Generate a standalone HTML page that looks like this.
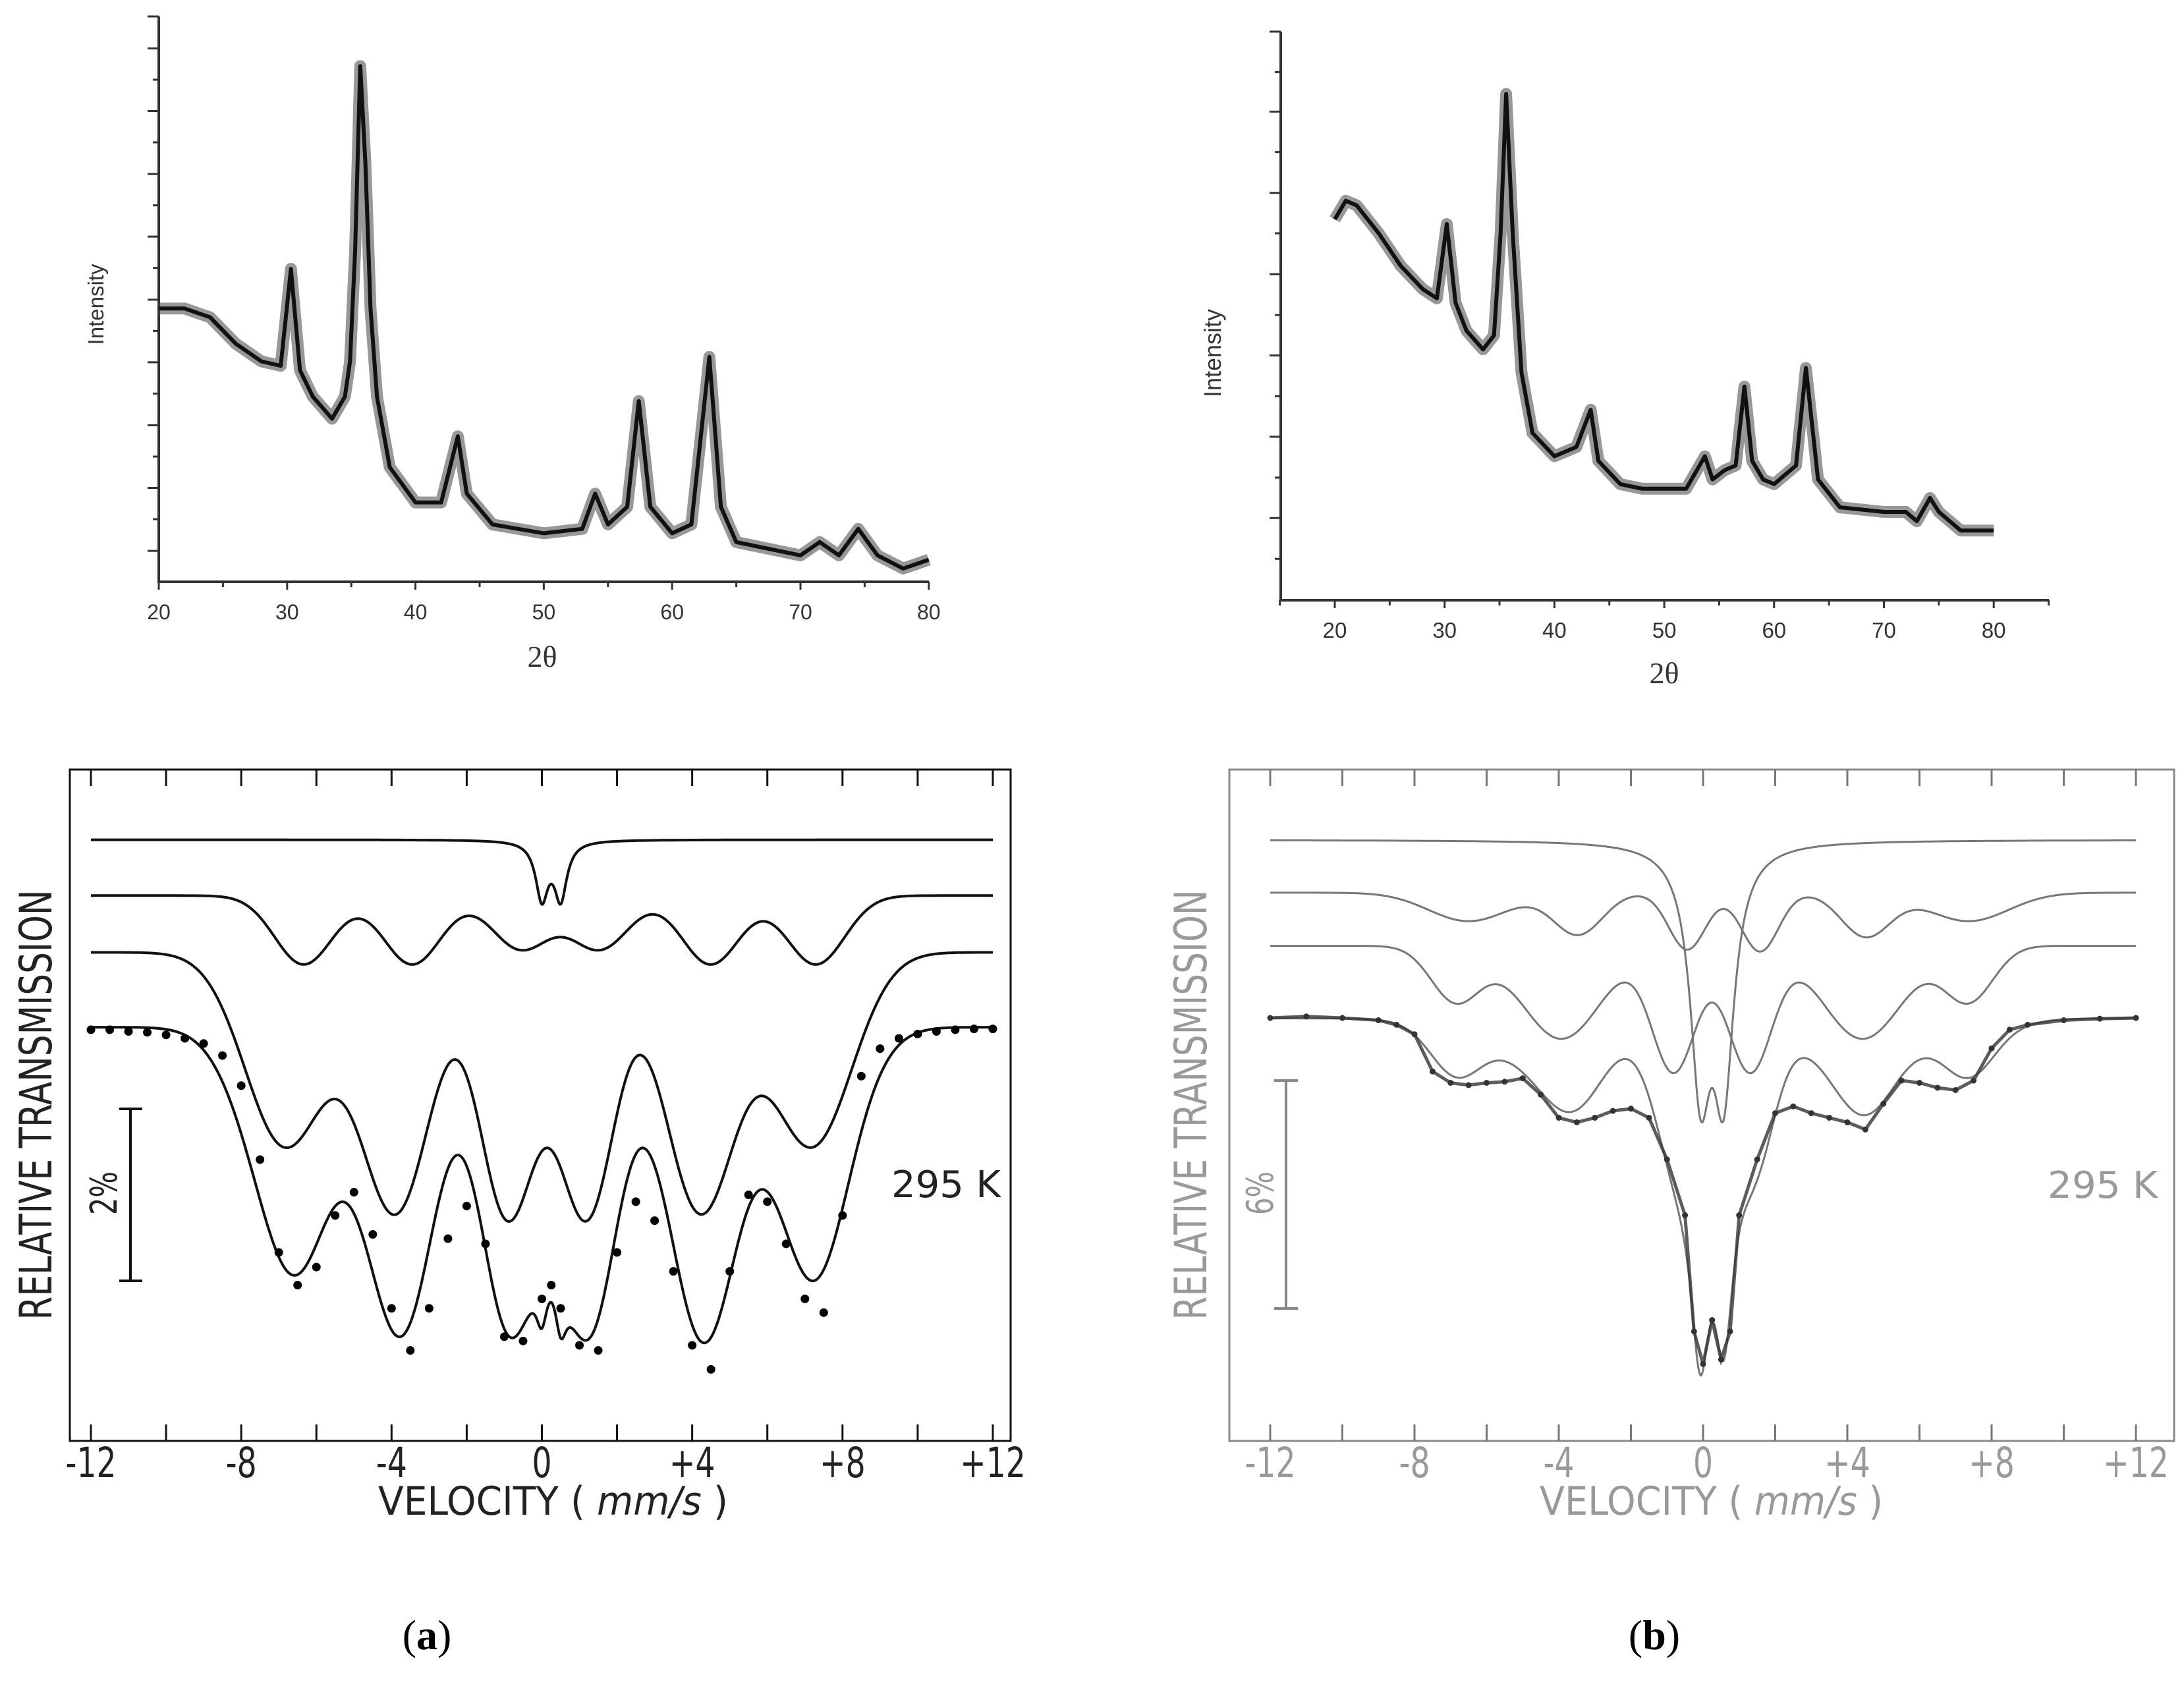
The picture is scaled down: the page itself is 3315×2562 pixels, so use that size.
<!DOCTYPE html>
<html><head><meta charset="utf-8"><style>
html,body{margin:0;padding:0;background:#fff;}
svg{display:block;}
</style></head><body>
<svg id="fig" width="3315" height="2562" viewBox="0 0 3315 2562" xmlns="http://www.w3.org/2000/svg">
<rect x="0" y="0" width="3315" height="2562" fill="#fff"/>

<g id="xrdA">
  <line x1="241" y1="25" x2="241" y2="885" stroke="#333" stroke-width="4"/>
  <line x1="239" y1="883" x2="1410" y2="883" stroke="#333" stroke-width="4"/>
  <text x="823" y="1012" font-family="Liberation Serif, serif" font-size="46" fill="#333" text-anchor="middle">2θ</text>
  <text transform="translate(157,462) rotate(-90)" font-family="Liberation Sans, sans-serif" font-size="33" fill="#333" text-anchor="middle">Intensity</text>
</g>

<g id="xrdB">
  <line x1="1944" y1="48" x2="1944" y2="913" stroke="#333" stroke-width="4"/>
  <line x1="1942" y1="911" x2="3110" y2="911" stroke="#333" stroke-width="4"/>
  <text x="2526" y="1037" font-family="Liberation Serif, serif" font-size="46" fill="#333" text-anchor="middle">2θ</text>
  <text transform="translate(1853,536) rotate(-90)" font-family="Liberation Sans, sans-serif" font-size="36" fill="#333" text-anchor="middle">Intensity</text>
</g>

<g id="mosA">
  <rect x="106" y="1168" width="1428" height="1019" fill="none" stroke="#111" stroke-width="3"/>
  <text transform="translate(78,1677) rotate(-90)" font-family="DejaVu Sans, sans-serif" font-size="68" fill="#222" text-anchor="middle" textLength="653" lengthAdjust="spacingAndGlyphs">RELATIVE  TRANSMISSION</text>
  <text x="574" y="2299" font-family="DejaVu Sans, sans-serif" font-size="60" fill="#222" textLength="531" lengthAdjust="spacingAndGlyphs">VELOCITY ( <tspan font-style="italic">mm/s</tspan> )</text>
  <text x="1353" y="1817" font-family="DejaVu Sans, sans-serif" font-size="56" fill="#222" textLength="166" lengthAdjust="spacingAndGlyphs">295  K</text>
  <line x1="198" y1="1683" x2="198" y2="1944" stroke="#111" stroke-width="4"/>
  <line x1="181" y1="1683" x2="216" y2="1683" stroke="#111" stroke-width="4"/>
  <line x1="181" y1="1944" x2="216" y2="1944" stroke="#111" stroke-width="4"/>
  <text transform="translate(177,1811) rotate(-90)" font-family="DejaVu Sans, sans-serif" font-size="56" fill="#222" text-anchor="middle" textLength="66" lengthAdjust="spacingAndGlyphs">2%</text>
</g>

<g id="mosB">
  <rect x="1866" y="1168" width="1434" height="1019" fill="none" stroke="#888" stroke-width="3"/>
  <text transform="translate(1831,1677) rotate(-90)" font-family="DejaVu Sans, sans-serif" font-size="68" fill="#999" text-anchor="middle" textLength="653" lengthAdjust="spacingAndGlyphs">RELATIVE  TRANSMISSION</text>
  <text x="2337" y="2299" font-family="DejaVu Sans, sans-serif" font-size="60" fill="#999" textLength="521" lengthAdjust="spacingAndGlyphs">VELOCITY ( <tspan font-style="italic">mm/s</tspan> )</text>
  <text x="3108" y="1818" font-family="DejaVu Sans, sans-serif" font-size="56" fill="#999" textLength="167" lengthAdjust="spacingAndGlyphs">295  K</text>
  <line x1="1952" y1="1640" x2="1952" y2="1986" stroke="#888" stroke-width="4"/>
  <line x1="1934" y1="1640" x2="1970" y2="1640" stroke="#888" stroke-width="4"/>
  <line x1="1934" y1="1986" x2="1970" y2="1986" stroke="#888" stroke-width="4"/>
  <text transform="translate(1932,1811) rotate(-90)" font-family="DejaVu Sans, sans-serif" font-size="56" fill="#999" text-anchor="middle" textLength="66" lengthAdjust="spacingAndGlyphs">6%</text>
</g>

<text x="648" y="2503" font-family="Liberation Serif, serif" font-size="64" fill="#000" text-anchor="middle">(<tspan font-weight="bold">a</tspan>)</text>
<text x="2511" y="2503" font-family="Liberation Serif, serif" font-size="64" fill="#000" text-anchor="middle">(<tspan font-weight="bold">b</tspan>)</text>
</svg>

<script>
// ---------- XRD (a) data ----------
const xrdA_theta = [20,22,24,26,28,29.5,30.3,31,32,33.5,34.5,34.9,35.3,35.7,36.1,36.5,37,38,40,42,43.3,44,46,50,53,54,55,56.5,57.4,58.3,60,61.5,62.9,63.8,65,70,71.5,73,74.5,76,78,80];
const xrdA_int   = [62,62,60,54,50,49,71,48,42,37,42,50,75,117,95,62,42,26,18,18,33,20,13,11,12,20,13,17,41,17,11,13,51,17,9,6,9,6,12,6,3,5];
const xrdA_xTicks = [20,30,40,50,60,70,80];
const xrdA_xMinor = [25,35,45,55,65,75];
const xrdA_yTicks = [7,21.3,35.5,49.8,64,78.3,92.5,106.8,121];
const xrdA_yMinor = [14.2,28.4,42.7,56.9,71.2,85.4,99.7,113.9];
// ---------- XRD (b) data ----------
const xrdB_theta = [20,21,22,24,26,28,29.3,30.2,31,32,33.5,34.5,35.1,35.6,36.2,37,38,40,42,43.3,44,46,48,50,52,53.7,54.4,55.5,56.5,57.3,58,59,60,62,62.9,64,66,70,72,73,74.2,75,77,80];
const xrdB_int   = [82,86,85,79,72,67,65,81,64,58,54,57,79,109,79,49,36,31,33,41,30,25,24,24,24,31,26,28,29,46,30,26,25,29,50,26,20,19,19,17,22,19,15,15];
const xrdB_xTicks = [20,30,40,50,60,70,80];
const xrdB_xMinor = [15,25,35,45,55,65,75,85];
const xrdB_yTicks = [17.7,35.2,52.7,70.2,87.7,105.2];
const xrdB_yMinor = [8.9,26.4,43.9,61.4,79,96.5,113.7];

// ---------- Mossbauer shared ticks ----------
const vTicks = [-12,-10,-8,-6,-4,-2,0,2,4,6,8,10,12];
const vLabels = ["-12","-8","-4","0","+4","+8","+12"];
const vLabelVals = [-12,-8,-4,0,4,8,12];

// ---------- Mossbauer (a) ----------
const mA_base = [102.18,101.53,100.87];
const mA_fitScale = [1,1,0.95];
const mA_c1_pos = [0.0,0.5];      const mA_c1_amp = [0.66,0.66];   const mA_c1_w = [0.2,0.2];
const mA_c2_pos = [-6.34,-3.45,-0.56,1.54,4.49,7.29]; const mA_c2_amp = [0.8,0.8,0.62,0.62,0.8,0.8]; const mA_c2_w = [0.9,0.9,0.9,0.9,0.9,0.9];
const mA_c3_pos = [-6.83,-3.89,-0.91,1.19,4.21,7.18]; const mA_c3_amp = [2.25,3.0,3.05,3.05,3.0,2.25]; const mA_c3_w = [1.25,1.1,0.88,0.88,1.1,1.25];
const mA_dataV = [-12,-11.5,-11,-10.5,-10,-9.5,-9,-8.5,-8,-7.5,-7,-6.5,-6,-5.5,-5,-4.5,-4,-3.5,-3,-2.5,-2,-1.5,-1,-0.5,0,0.25,0.5,1,1.5,2,2.5,3,3.5,4,4.5,5,5.5,6,6.5,7,7.5,8,8.5,9,9.5,10,10.5,11,11.5,12];
const mA_dataP = [99.97,99.97,99.95,99.94,99.91,99.87,99.81,99.67,99.32,98.46,97.38,97.00,97.21,97.81,98.08,97.59,96.73,96.24,96.73,97.54,97.92,97.48,96.40,96.35,96.84,97.0,96.73,96.30,96.24,97.38,97.97,97.75,97.16,96.30,96.02,97.16,98.05,97.97,97.48,96.84,96.68,97.81,99.43,99.75,99.87,99.92,99.95,99.97,99.98,99.98];

// ---------- Mossbauer (b) ----------
const mB_base = [104.69,103.30,101.90];
const mB_fitScale = [1.0,0.55,0.75];
const mB_c1_pos = [-0.07,0.57]; const mB_c1_amp = [6.0,6.0]; const mB_c1_w = [0.35,0.35];
const mB_c2_pos = [-6.5,-3.47,-0.44,1.58,4.51,7.36]; const mB_c2_amp = [0.75,1.1,1.5,1.55,1.15,0.75]; const mB_c2_w = [1.3,0.8,0.6,0.6,0.8,1.3];
const mB_c3_pos = [-6.86,-3.93,-0.81,1.30,4.42,7.36]; const mB_c3_amp = [1.45,2.45,3.3,3.3,2.45,1.45]; const mB_c3_w = [0.8,1.3,0.72,0.72,1.3,0.8];
const mB_dataV = [-12,-11,-10,-9,-8.5,-8,-7.5,-7,-6.5,-6,-5.5,-5,-4.5,-4,-3.5,-3,-2.5,-2,-1.5,-1,-0.5,-0.25,0,0.25,0.5,0.75,1,1.5,2,2.5,3,3.5,4,4.5,5,5.5,6,6.5,7,7.5,8,8.5,9,10,11,12];
const mB_dataP = [100,100.04,100,99.94,99.82,99.57,98.59,98.29,98.23,98.29,98.32,98.41,97.98,97.37,97.25,97.37,97.55,97.61,97.37,96.27,94.80,91.74,90.88,92.04,91.00,91.74,94.80,96.27,97.49,97.67,97.49,97.37,97.25,97.06,97.74,98.35,98.29,98.16,98.10,98.35,99.20,99.69,99.82,99.94,99.98,100];

const NS = 'http://www.w3.org/2000/svg';
const svg = document.getElementById('fig');
function mk(tag, attrs, parent){ const e = document.createElementNS(NS, tag); for (const k in attrs) e.setAttribute(k, attrs[k]); (parent||svg).appendChild(e); return e; }
function lor(v, pos, amp, w){ let s = 0; for (let i = 0; i < pos.length; i++){ const d = (v - pos[i]) / w[i]; s += amp[i] / (1 + d*d); } return s; }
function gau(v, pos, amp, w){ let s = 0; for (let i = 0; i < pos.length; i++){ const d = (v - pos[i]) / w[i]; s += amp[i] * Math.exp(-0.6931 * d * d); } return s; }

const xA = t => 241 + (t - 20) * 19.48;
const yA = i => 883 - i * 6.69;
const xB = t => 2026 + (t - 20) * 16.67;
const yB = i => 911 - i * 7.05;
const vxA = v => 138 + (v + 12) * 57.04;
const pyA = p => 1559 - (p - 100) * 130.5;
const vxB = v => 1928 + (v + 12) * 54.75;
const pyB = p => 1545 - (p - 100) * 57.6;

function xrd(gId, th, it, xf, yf, xT, xM, yT, yM, axX, axY, topY, font, lblY, pre){
  const g = document.getElementById(gId);
  xT.forEach(t => {
    const l = mk('line', {x1:xf(t), x2:xf(t), y1:axY, y2:axY+12, stroke:'#333','stroke-width':3}, g);
    
    
    const tx = mk('text', {x:xf(t), y:lblY, 'font-family':'Liberation Sans, sans-serif','font-size':font, fill:'#333','text-anchor':'middle'}, g);
    tx.textContent = String(t);
    
    
  });
  xM.forEach(t => {
    const l = mk('line', {x1:xf(t), x2:xf(t), y1:axY, y2:axY+8, stroke:'#333','stroke-width':3}, g);
    
    
  });
  yT.forEach(i => {
    const l = mk('line', {x1:axX-17, x2:axX, y1:yf(i), y2:yf(i), stroke:'#333','stroke-width':3}, g);
    
    
  });
  yM.forEach(i => {
    const l = mk('line', {x1:axX-9, x2:axX, y1:yf(i), y2:yf(i), stroke:'#333','stroke-width':3}, g);
    
    
  });
  const tt = mk('line', {x1:axX-17, x2:axX, y1:topY, y2:topY, stroke:'#333','stroke-width':3}, g);
  
  
  let d = '';
  th.forEach((t, k) => { d += (k ? 'L' : 'M') + xf(t).toFixed(1) + ',' + yf(it[k]).toFixed(1); });
  const band = mk('path', {d:d, fill:'none', stroke:'#444','stroke-width':18,'stroke-opacity':0.55,'stroke-linejoin':'round'}, g);
  
  
  const line = mk('path', {d:d, fill:'none', stroke:'#111','stroke-width':6,'stroke-linejoin':'round'}, g);
  
  
}
xrd('xrdA', xrdA_theta, xrdA_int, xA, yA, xrdA_xTicks, xrdA_xMinor, xrdA_yTicks, xrdA_yMinor, 241, 883, 25, 32, 940, 'xrd-a');
xrd('xrdB', xrdB_theta, xrdB_int, xB, yB, xrdB_xTicks, xrdB_xMinor, xrdB_yTicks, xrdB_yMinor, 1944, 911, 48, 33, 968, 'xrd-b');

function moss(gId, vx, py, base, scale, comps, dV, dP, col, dataCol, boxTop, boxBot, lw, dotR, pre, textCol, dataLine){
  const g = document.getElementById(gId);
  vTicks.forEach(v => {
    const a = mk('line', {x1:vx(v), x2:vx(v), y1:boxBot, y2:boxBot-25, stroke:col,'stroke-width':3}, g);
    
    
    const b = mk('line', {x1:vx(v), x2:vx(v), y1:boxTop, y2:boxTop+25, stroke:col,'stroke-width':3}, g);
    
    
  });
  vLabelVals.forEach((v, k) => {
    const t = mk('text', {transform:'translate(' + vx(v) + ',2242) scale(0.75,1)', 'font-family':'DejaVu Sans, sans-serif','font-size':63, fill:textCol,'text-anchor':'middle'}, g);
    t.textContent = vLabels[k];
    
    
  });
  const names = ['doublet-component','sextet-component-1','sextet-component-2'];
  comps.forEach((c, ci) => {
    let d = '';
    for (let k = 0; k <= 1200; k++){ const v = -12 + k * 0.02; const p = base[ci] - c[3](v, c[0], c[1], c[2]); d += (k ? 'L' : 'M') + vx(v).toFixed(1) + ',' + py(p).toFixed(1); }
    const e = mk('path', {d:d, fill:'none', stroke:col,'stroke-width':lw}, g);
    
    
  });
  let d = '';
  for (let k = 0; k <= 1200; k++){
    const v = -12 + k * 0.02; let s = 0;
    comps.forEach((c, ci) => { s += scale[ci] * c[3](v, c[0], c[1], c[2]); });
    d += (k ? 'L' : 'M') + vx(v).toFixed(1) + ',' + py(100 - s).toFixed(1);
  }
  const fit = mk('path', {d:d, fill:'none', stroke:col,'stroke-width':lw}, g);
  
  
  if (dataLine){
    let dd = '';
    dV.forEach((v, k) => { dd += (k ? 'L' : 'M') + vx(v).toFixed(1) + ',' + py(dP[k]).toFixed(1); });
    const dl = mk('path', {d:dd, fill:'none', stroke:dataCol,'stroke-width':5,'stroke-opacity':0.8}, g);
    
    
  }
  dV.forEach((v, k) => {
    const c = mk('circle', {cx:vx(v), cy:py(dP[k]), r:dotR, fill:dataCol}, g);
    
    
  });
}
moss('mosA', vxA, pyA, mA_base, mA_fitScale, [[mA_c1_pos,mA_c1_amp,mA_c1_w,lor],[mA_c2_pos,mA_c2_amp,mA_c2_w,gau],[mA_c3_pos,mA_c3_amp,mA_c3_w,gau]], mA_dataV, mA_dataP, '#111', '#000', 1168, 2187, 4, 6.5, 'mossbauer-a', '#222', false);
moss('mosB', vxB, pyB, mB_base, mB_fitScale, [[mB_c1_pos,mB_c1_amp,mB_c1_w,lor],[mB_c2_pos,mB_c2_amp,mB_c2_w,gau],[mB_c3_pos,mB_c3_amp,mB_c3_w,gau]], mB_dataV, mB_dataP, '#777', '#333', 1168, 2187, 3, 4.5, 'mossbauer-b', '#999', true);
</script>
</body></html>
